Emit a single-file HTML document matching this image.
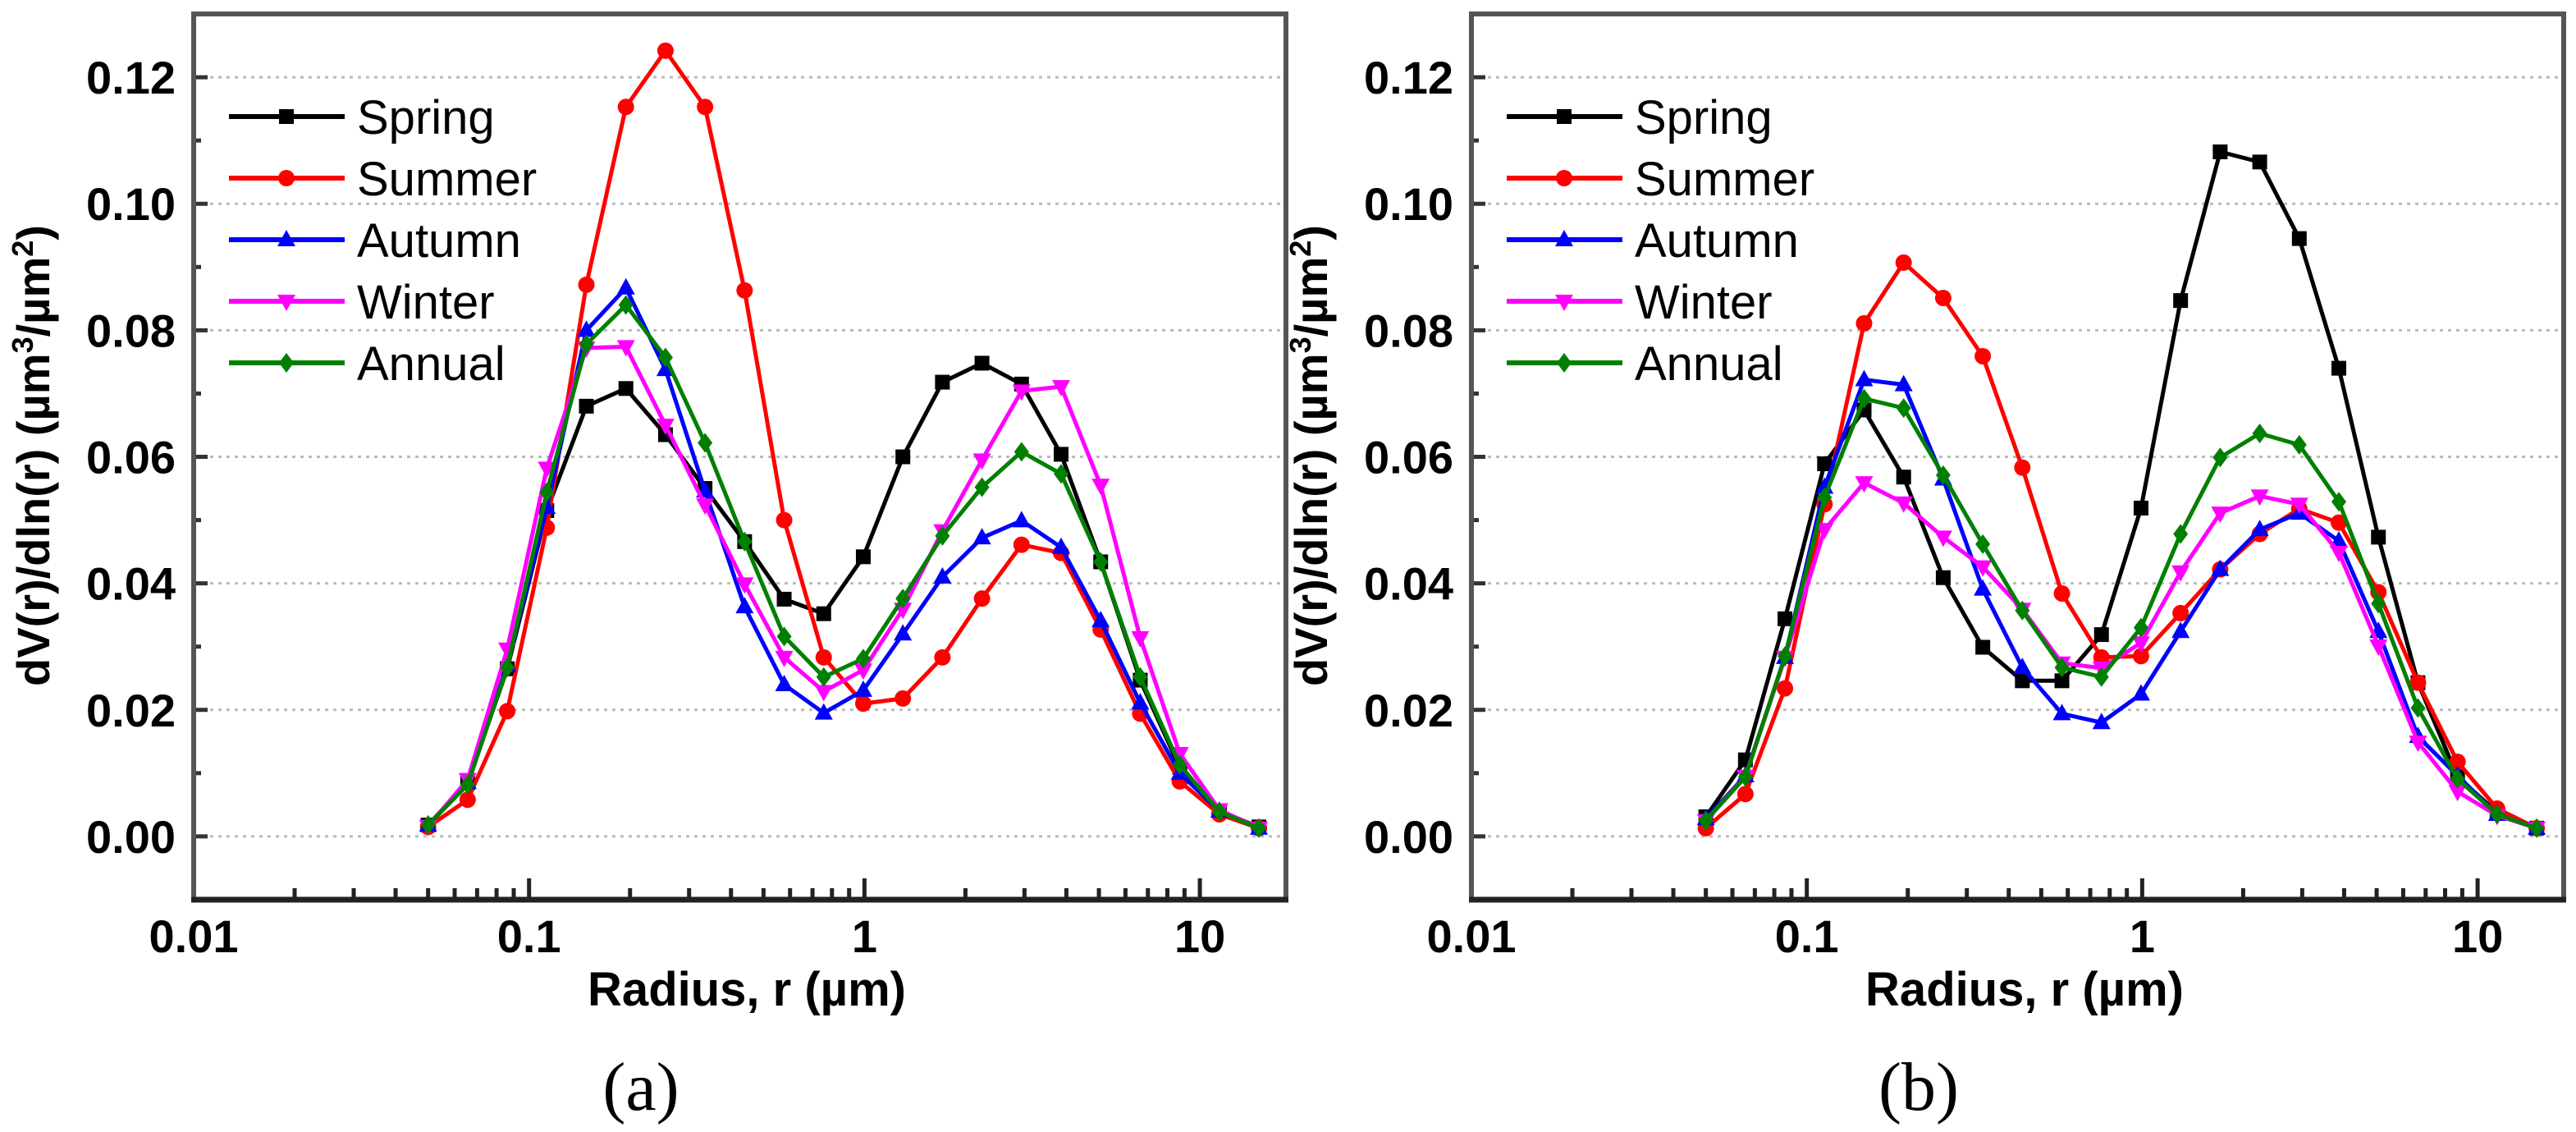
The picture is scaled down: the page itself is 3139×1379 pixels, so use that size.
<!DOCTYPE html>
<html><head><meta charset="utf-8">
<style>
html,body{margin:0;padding:0;background:#fff;}
svg{display:block;}
text{font-family:"Liberation Sans",Arial,sans-serif;}
text.serif{font-family:"Liberation Serif","Times New Roman",serif;}
</style></head>
<body>
<svg id="chart" width="3139" height="1379" viewBox="0 0 3139 1379" xmlns="http://www.w3.org/2000/svg"></svg>
<script>
const radii = [0.05,0.065604,0.086077,0.112939,0.148184,0.194429,0.255105,0.334716,0.439173,0.576227,0.756052,0.991996,1.301571,1.707757,2.240702,2.939966,3.857452,5.06126,6.640745,8.713145,11.432287,15.0];
const seriesNames = ["Spring","Summer","Autumn","Winter","Annual"];
const yTicks = [0,0.02,0.04,0.06,0.08,0.10,0.12];
const yTickLabels = ["0.00","0.02","0.04","0.06","0.08","0.10","0.12"];
const xTicks = [0.01,0.1,1,10];
const xTickLabels = ["0.01","0.1","1","10"];
const panelLabels = ["(a)","(b)"];
const aSpring = [0.0018,0.0085,0.0265,0.0515,0.068,0.0708,0.0635,0.055,0.0466,0.0375,0.0352,0.0442,0.060,0.0718,0.0748,0.0715,0.0604,0.0434,0.0247,0.0109,0.004,0.0015];
const aSummer = [0.0015,0.0058,0.0198,0.0488,0.0872,0.1153,0.1242,0.1153,0.0863,0.050,0.0283,0.021,0.0218,0.0283,0.0376,0.0461,0.0448,0.0327,0.0194,0.0087,0.0035,0.0013];
const aAutumn = [0.0018,0.0085,0.027,0.052,0.080,0.0867,0.0738,0.0546,0.0363,0.024,0.0195,0.0231,0.032,0.041,0.0472,0.0499,0.0457,0.0341,0.0211,0.010,0.004,0.0013];
const aWinter = [0.0016,0.009,0.0296,0.0582,0.0772,0.0774,0.065,0.0524,0.0399,0.0283,0.0229,0.0263,0.0359,0.0483,0.0595,0.0704,0.0711,0.0555,0.0314,0.0131,0.0042,0.0013];
const aAnnual = [0.0018,0.0082,0.0267,0.0544,0.0778,0.084,0.0757,0.0622,0.0466,0.0316,0.0252,0.0281,0.0376,0.0475,0.0552,0.0608,0.0573,0.0434,0.0252,0.0113,0.0039,0.0013];
const bSpring = [0.0031,0.0121,0.0344,0.0589,0.0674,0.0568,0.0409,0.0299,0.0246,0.0246,0.0319,0.0519,0.0847,0.1082,0.1066,0.0945,0.074,0.0473,0.0243,0.0094,0.0038,0.0013];
const bSummer = [0.0013,0.0067,0.0234,0.0525,0.0811,0.0907,0.0851,0.0759,0.0583,0.0384,0.0283,0.0285,0.0353,0.0422,0.0478,0.0518,0.0496,0.0386,0.0243,0.0118,0.0044,0.0013];
const bAutumn = [0.0028,0.0096,0.0283,0.0552,0.0722,0.0714,0.0565,0.0391,0.0267,0.0194,0.018,0.0225,0.0324,0.0422,0.0485,0.0511,0.0467,0.0324,0.0158,0.0096,0.0035,0.0013];
const bWinter = [0.0025,0.0095,0.0283,0.0485,0.0559,0.0527,0.0473,0.0426,0.0359,0.0274,0.0266,0.0306,0.0418,0.0511,0.0538,0.0525,0.0449,0.0301,0.0149,0.0071,0.0033,0.0013];
const bAnnual = [0.0025,0.0094,0.0285,0.0536,0.0692,0.0677,0.0571,0.0462,0.0357,0.0267,0.0252,0.033,0.0478,0.0599,0.0637,0.0619,0.0529,0.0368,0.0203,0.0091,0.0035,0.0013];

const panelData = [[aSpring,aSummer,aAutumn,aWinter,aAnnual],[bSpring,bSummer,bAutumn,bWinter,bAnnual]];
const colors = ["#000000","#ff0000","#0000ff","#ff00ff","#008000"];
const markers = ["square","circle","triUp","triDown","diamond"];
const NS = "http://www.w3.org/2000/svg";
const svg = document.getElementById('chart');
function mk(tag, attrs, parent){const e=document.createElementNS(NS,tag);for(const k in attrs)e.setAttribute(k,attrs[k]);(parent||svg).appendChild(e);return e;}

const W=1331,H=1079,TOP=17,LEFTS=[236,1793];
const XMIN=-2, XMAX=-2+W/408.7, YMIN=-0.01, YMAX=0.13;

function marker(g,type,x,y,c){
  let e;
  if(type==="square"){e=mk('rect',{x:x-9,y:y-9,width:18,height:18,fill:c},g);}
  else if(type==="circle"){e=mk('circle',{cx:x,cy:y,r:10,fill:c},g);}
  else if(type==="triUp"){e=mk('polygon',{points:`${x},${y-12} ${x+11},${y+8} ${x-11},${y+8}`,fill:c},g);}
  else if(type==="triDown"){e=mk('polygon',{points:`${x},${y+12} ${x+11},${y-8} ${x-11},${y-8}`,fill:c},g);}
  else {e=mk('polygon',{points:`${x},${y-12} ${x+9},${y} ${x},${y+12} ${x-9},${y}`,fill:c},g);}
  
  
  return e;
}

panelData.forEach((data,p)=>{
  const L=LEFTS[p];
  const xs=v=>L+(Math.log10(v)-XMIN)/(XMAX-XMIN)*W;
  const ys=v=>TOP+(YMAX-v)/(YMAX-YMIN)*H;
  const g=mk('g',{});
  
  
  yTicks.forEach((t,i)=>{
    const gl=mk('line',{x1:L,x2:L+W,y1:ys(t),y2:ys(t),stroke:'#bbb','stroke-width':3,'stroke-dasharray':'4 6'},g);
    
    
    mk('line',{x1:L,x2:L+17,y1:ys(t),y2:ys(t),stroke:'#333','stroke-width':5},g);
    const tl=mk('text',{x:L-22,y:ys(t)+20,'text-anchor':'end','font-size':56,'font-weight':'bold',fill:'#000'},g);
    tl.textContent=yTickLabels[i];
    
    
  });
  for(let v=-0.01;v<0.135;v+=0.02){mk('line',{x1:L,x2:L+9,y1:ys(v),y2:ys(v),stroke:'#333','stroke-width':5},g);}
  const B=TOP+H;
  for(let d=-2;d<2;d++){for(let m=1;m<10;m++){const v=m*Math.pow(10,d);const lx=Math.log10(v);if(lx>XMAX)break;
    const x=xs(v);mk('line',{x1:x,x2:x,y1:B,y2:B-(m===1?26:14),stroke:'#222','stroke-width':5},g);}}
  xTicks.forEach((t,i)=>{
    const tl=mk('text',{x:xs(t),y:1160,'text-anchor':'middle','font-size':56,'font-weight':'bold',fill:'#000'},g);
    tl.textContent=xTickLabels[i];
    
    
  });
  data.forEach((vals,s)=>{
    const sg=mk('g',{},g);
    
    
    const pts=vals.map((v,i)=>xs(radii[i]).toFixed(1)+','+ys(v).toFixed(1)).join(' ');
    mk('polyline',{points:pts,fill:'none',stroke:colors[s],'stroke-width':5,'stroke-linejoin':'round'},sg);
    vals.forEach((v,i)=>marker(sg,markers[s],xs(radii[i]),ys(v),colors[s]));
  });
  const fr=mk('rect',{x:L,y:TOP,width:W,height:H,fill:'none',stroke:'#555','stroke-width':6},g);
  
  
  mk('line',{x1:L-3,x2:L+W+3,y1:B,y2:B,stroke:'#222','stroke-width':7},g);
  const lg=mk('g',{},g);
  
  
  seriesNames.forEach((n,s)=>{
    const y=142+s*75;
    const eg=mk('g',{},lg);
    
    
    mk('line',{x1:L+43,x2:L+184,y1:y,y2:y,stroke:colors[s],'stroke-width':6},eg);
    marker(eg,markers[s],L+113,y,colors[s]);
    const t=mk('text',{x:L+199,y:y+21,'font-size':58,fill:'#000'},eg);
    t.textContent=n;
  });
  const xt=mk('text',{x:L+674,y:1225,'text-anchor':'middle','font-size':58,'font-weight':'bold',fill:'#000'},g);
  xt.textContent='Radius, r (\u00b5m)';
  
  
  const cx=L-176, cy=555;
  const yt=mk('text',{x:cx,y:cy,'text-anchor':'middle','font-size':56,'font-weight':'bold',fill:'#000',transform:`rotate(-90 ${cx} ${cy})`},g);
  yt.innerHTML='dV(r)/dln(r) (\u00b5m<tspan dy="-20" font-size="36">3</tspan><tspan dy="20">/\u00b5m</tspan><tspan dy="-20" font-size="36">2</tspan><tspan dy="20">)</tspan>';
  
  
  const pl=mk('text',{x:L+545,y:1352,'text-anchor':'middle','font-size':84,fill:'#000','class':'serif'},g);
  pl.textContent=panelLabels[p];
  
  
});
</script>
</body></html>
